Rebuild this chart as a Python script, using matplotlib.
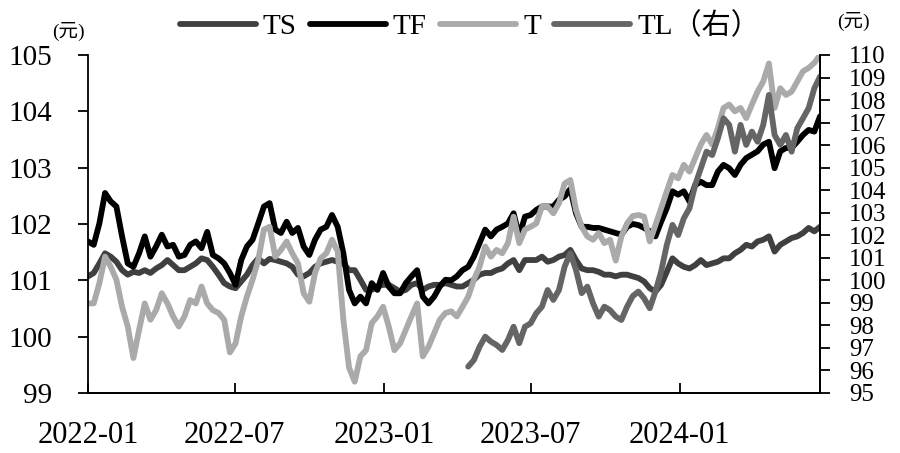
import matplotlib
matplotlib.use('Agg')
import matplotlib.pyplot as plt
import numpy as np
import pandas as pd

plt.rcParams['font.family'] = ['Liberation Serif', 'Noto Sans CJK SC']

#---------------------------- DATA ------------------------------------------
# weekly closes, 2022-01-04 .. 2024-06-25
dates = pd.date_range('2022-01-04', periods=130, freq='7D')
tick_dates = pd.to_datetime(['2022-01-04', '2022-07-04', '2023-01-04', '2023-07-04', '2024-01-04'])
tick_labels = ['2022-01', '2022-07', '2023-01', '2023-07', '2024-01']

ts = [101.07, 101.13, 101.30, 101.48, 101.42, 101.33, 101.18, 101.10, 101.15, 101.13,
      101.18, 101.13, 101.21, 101.27, 101.36, 101.27, 101.18, 101.18, 101.24, 101.30,
      101.39, 101.36, 101.24, 101.10, 100.95, 100.89, 100.86, 100.98, 101.10, 101.27,
      101.39, 101.30, 101.38, 101.36, 101.33, 101.30, 101.24, 101.10, 101.07, 101.13,
      101.24, 101.30, 101.33, 101.36, 101.33, 101.30, 101.18, 101.18, 101.01, 100.83,
      100.83, 100.89, 100.92, 100.92, 100.86, 100.80, 100.83, 100.92, 100.95, 100.83,
      100.89, 100.92, 100.92, 100.95, 100.92, 100.89, 100.89, 100.95, 101.01, 101.10,
      101.13, 101.13, 101.18, 101.21, 101.30, 101.36, 101.18, 101.36, 101.36, 101.36,
      101.42, 101.33, 101.36, 101.42, 101.45, 101.54, 101.36, 101.21, 101.18, 101.18,
      101.15, 101.10, 101.10, 101.07, 101.10, 101.10, 101.07, 101.04, 100.98, 100.86,
      100.80, 100.92, 101.15, 101.39, 101.30, 101.24, 101.21, 101.27, 101.36, 101.27,
      101.30, 101.33, 101.39, 101.39, 101.48, 101.54, 101.63, 101.60, 101.69, 101.72,
      101.78, 101.51, 101.63, 101.69, 101.75, 101.78, 101.84, 101.93, 101.87, 101.95]

tf = [101.69, 101.63, 102.01, 102.55, 102.40, 102.31, 101.78, 101.30, 101.24, 101.48,
      101.78, 101.42, 101.60, 101.81, 101.60, 101.63, 101.42, 101.45, 101.63, 101.69,
      101.57, 101.86, 101.45, 101.39, 101.30, 101.13, 100.92, 101.36, 101.60, 101.72,
      102.01, 102.31, 102.37, 101.90, 101.84, 102.04, 101.84, 101.93, 101.60, 101.45,
      101.72, 101.90, 101.95, 102.16, 101.95, 101.48, 100.83, 100.59, 100.71, 100.59,
      100.95, 100.83, 101.13, 100.89, 100.77, 100.77, 100.95, 101.07, 101.18, 100.71,
      100.59, 100.71, 100.89, 101.01, 101.00, 101.07, 101.18, 101.24, 101.42, 101.66,
      101.90, 101.78, 101.90, 101.95, 102.01, 102.19, 101.78, 102.13, 102.16, 102.25,
      102.31, 102.31, 102.31, 102.43, 102.49, 102.62, 102.19, 101.95, 101.95, 101.93,
      101.93, 101.90, 101.87, 101.84, 101.81, 101.95, 102.00, 101.98, 101.93, 101.87,
      101.78, 102.04, 102.28, 102.58, 102.52, 102.58, 102.40, 102.69, 102.75, 102.69,
      102.69, 102.93, 103.05, 102.99, 102.87, 103.05, 103.17, 103.23, 103.29, 103.41,
      103.46, 102.99, 103.29, 103.35, 103.35, 103.46, 103.58, 103.67, 103.64, 103.91]

t_10y = [100.59, 100.59, 100.95, 101.42, 101.24, 101.01, 100.53, 100.18, 99.62, 100.12,
         100.59, 100.30, 100.47, 100.77, 100.59, 100.36, 100.18, 100.36, 100.65, 100.59,
         100.89, 100.59, 100.47, 100.42, 100.30, 99.72, 99.88, 100.36, 100.71, 101.01,
         101.36, 101.90, 101.95, 101.42, 101.54, 101.69, 101.48, 101.30, 100.77, 100.62,
         101.13, 101.39, 101.48, 101.72, 101.51, 100.30, 99.45, 99.20, 99.65, 99.76,
         100.24, 100.36, 100.53, 100.18, 99.76, 99.88, 100.12, 100.36, 100.59, 99.65,
         99.82, 100.06, 100.30, 100.42, 100.45, 100.36, 100.53, 100.71, 101.01, 101.24,
         101.60, 101.42, 101.54, 101.48, 101.66, 102.13, 101.66, 101.90, 101.95, 102.01,
         102.31, 102.31, 102.19, 102.37, 102.72, 102.78, 102.25, 101.95, 101.78, 101.72,
         101.84, 101.66, 101.72, 101.35, 101.78, 102.01, 102.14, 102.16, 102.13, 101.69,
         101.98, 102.28, 102.58, 102.87, 102.81, 103.05, 102.93, 103.17, 103.41, 103.58,
         103.41, 103.70, 104.06, 104.12, 104.00, 104.06, 103.88, 104.12, 104.35, 104.53,
         104.85, 104.06, 104.41, 104.29, 104.35, 104.53, 104.71, 104.77, 104.86, 105.00]

# TL starts trading in April 2023
tl = [np.nan] * 67 + [
      96.17, 96.46, 97.05, 97.50, 97.28, 97.13, 96.91, 97.35, 97.94, 97.21,
      97.94, 98.09, 98.54, 98.83, 99.57, 99.13, 99.57, 100.61, 101.20, 100.46,
      99.43, 99.72, 98.98, 98.39, 98.83, 98.68, 98.39, 98.24, 98.83, 99.30,
      99.50, 99.20, 98.76, 99.50, 100.38, 101.57, 102.46, 102.01, 102.75, 103.20,
      104.23, 104.97, 105.71, 105.56, 106.30, 107.19, 106.90, 105.71, 106.90, 106.01,
      106.60, 106.15, 106.90, 108.23, 106.45, 106.01, 106.45, 105.71, 106.75, 107.19,
      107.64, 108.52, 109.04]

#---------------------------- PLOT ------------------------------------------
fig = plt.figure(figsize=(9, 4.53), dpi=100)
ax = fig.add_axes([0.0978, 0.1325, 0.8133, 0.7461])
ax2 = ax.twinx()

lw = 4.2
style = dict(lw=lw, solid_joinstyle='round', solid_capstyle='round')
l1, = ax.plot(dates, ts, color='#404040', label='TS', **style)
l2, = ax.plot(dates, tf, color='#000000', label='TF', **style)
l3, = ax.plot(dates, t_10y, color='#aaaaaa', label='T', **style)
l4, = ax2.plot(dates, tl, color='#656565', label='TL（右）', **style)

ax.set_xlim(dates[0], dates[-1])
ax.set_ylim(99, 105)
ax.set_yticks(range(99, 106))
ax2.set_ylim(95, 110)
ax2.set_yticks(range(95, 111))
ax.set_xticks(tick_dates)
ax.set_xticklabels(tick_labels)

for a in (ax, ax2):
    a.spines['top'].set_visible(False)
    for s in ('left', 'right', 'bottom'):
        a.spines[s].set_linewidth(1.3)
ax2.spines['left'].set_visible(False)

ax.tick_params(axis='y', direction='out', length=7, width=1.3, pad=19, labelsize=21)
ax.tick_params(axis='x', direction='in', length=7, width=1.3, pad=20, labelsize=22)
ax2.tick_params(axis='y', direction='out', length=7, width=1.3, pad=14, labelsize=18)

fig.text(0.058, 0.918, '(元)', fontsize=14)
fig.text(0.930, 0.94, '(元)', fontsize=14)

fig.legend([l1, l2, l3, l4], ['TS', 'TF', 'T', 'TL（右）'], loc='center',
           bbox_to_anchor=(0.522, 0.942), ncol=4, frameon=False, fontsize=21,
           handlelength=2.6, handletextpad=0.25, columnspacing=0.45,
           borderaxespad=0, borderpad=0)

fig.savefig('out.png', dpi=100)
